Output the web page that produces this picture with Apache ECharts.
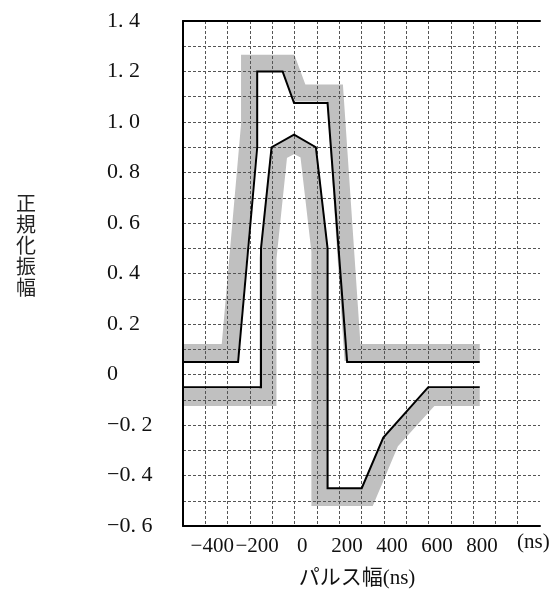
<!DOCTYPE html>
<html>
<head>
<meta charset="utf-8">
<script src="https://cdn.jsdelivr.net/npm/echarts@6/dist/echarts.min.js"></script>
<style>
	html, body { margin: 0; padding: 0; background: #fff; }
	#chart { width: 557px; height: 590px; }
</style>
</head>
<body>
<div id="chart"></div>
<script>
// tick labels
var xTicks = [-400, -200, 0, 200, 400, 600, 800];
var xTickLabels = ['−400', '−200', '0', '200', '400', '600', '800'];
var yTicks = [-0.6, -0.4, -0.2, 0, 0.2, 0.4, 0.6, 0.8, 1.0, 1.2, 1.4];
var yTickLabels = ['−0. 6', '−0. 4', '−0. 2', '0', '0. 2', '0. 4', '0. 6', '0. 8', '1. 0', '1. 2', '1. 4'];

// black curves [ns, amplitude]
var upperLine = [[-530, 0.05], [-285, 0.05], [-200, 0.9], [-200, 1.2], [-87, 1.2], [-36, 1.075],
	[113, 1.075], [200, 0.05], [790, 0.05]];
var lowerLine = [[-530, -0.05], [-183, -0.05], [-183, 0.5], [-136, 0.9], [-36, 0.95], [61, 0.9],
	[113, 0.5], [113, -0.45], [265, -0.45], [361, -0.25], [561, -0.05], [790, -0.05]];

// grey bands (tolerance) [ns, amplitude]
var upperBand = [[-530, 0.087], [-323, 0.087], [-234, 0.99], [-234, 1.233], [-61, 1.233], [-12, 1.115],
	[146, 1.115], [224, 0.087], [790, 0.087]];
var lowerBand = [[-530, -0.091], [-152, -0.091], [-152, 0.46], [-103, 0.879], [-36, 0.911], [28, 0.881],
	[79, 0.488], [79, -0.487], [289, -0.487], [393, -0.267], [571, -0.091], [790, -0.091]];

var serif = 'Liberation Serif, Noto Sans CJK JP';

function pick(ticks, labels, v) {
	for (var i = 0; i < ticks.length; i++) {
		if (Math.abs(ticks[i] - v) < 1e-6) return labels[i];
	}
	return '';
}

var myChart = echarts.init(document.getElementById('chart'), null, { renderer: 'canvas' });

var dashed = { color: '#555', type: [3, 2], width: 1 };
var frame = { show: true, onZero: false, lineStyle: { color: '#000', width: 2 } };

var option = {
	animation: false,
	backgroundColor: '#fff',
	grid: { left: 183, top: 21, right: 17, bottom: 64 },
	xAxis: [
		{
			type: 'value', position: 'bottom', min: -530, max: 1058, z: 3,
			axisLine: frame, axisTick: { show: false }, splitLine: { show: false },
			axisLabel: {
				customValues: xTicks, margin: 10, color: '#111', fontSize: 21, fontFamily: serif,
				formatter: function (v) { return pick(xTicks, xTickLabels, v); }
			}
		},
		{
			// grid columns only
			type: 'value', position: 'top', min: 0, max: 16, interval: 1, z: 3,
			axisLine: frame, axisTick: { show: false }, axisLabel: { show: false },
			splitLine: { show: true, showMinLine: false, showMaxLine: false, lineStyle: dashed }
		}
	],
	yAxis: {
		type: 'value', min: -0.6, max: 1.4, interval: 0.1, z: 3,
		axisLine: frame, axisTick: { show: false },
		splitLine: { show: true, showMinLine: false, showMaxLine: false, lineStyle: dashed },
		axisLabel: {
			align: 'left', margin: 76, color: '#111', fontSize: 22, fontFamily: serif,
			formatter: function (v) { return pick(yTicks, yTickLabels, v); }
		}
	},
	graphic: [
		{ type: 'text', left: 517, top: 532, style: { text: '(ns)', fontSize: 21, fontFamily: serif, fill: '#111' } },
		{ type: 'text', x: 357, y: 578, style: { text: 'パルス幅(ns)', fontSize: 21, fontFamily: serif, fill: '#111', align: 'center', verticalAlign: 'middle' } },
		{ type: 'text', x: 26, y: 245, style: { text: '正\n規\n化\n振\n幅', fontSize: 20, lineHeight: 21, fontFamily: 'Noto Sans CJK JP', fill: '#222', align: 'center', verticalAlign: 'middle' } }
	],
	series: [
		{ type: 'line', data: upperBand, symbol: 'none', z: 1, lineStyle: { color: '#c0c0c0', width: 17, cap: 'butt', join: 'miter' } },
		{ type: 'line', data: lowerBand, symbol: 'none', z: 1, lineStyle: { color: '#c0c0c0', width: 17, cap: 'butt', join: 'miter' } },
		{ type: 'line', data: upperLine, symbol: 'none', z: 4, lineStyle: { color: '#000', width: 2, join: 'miter' } },
		{ type: 'line', data: lowerLine, symbol: 'none', z: 4, lineStyle: { color: '#000', width: 2, join: 'miter' } }
	]
};

myChart.setOption(option);
</script>
</body>
</html>
